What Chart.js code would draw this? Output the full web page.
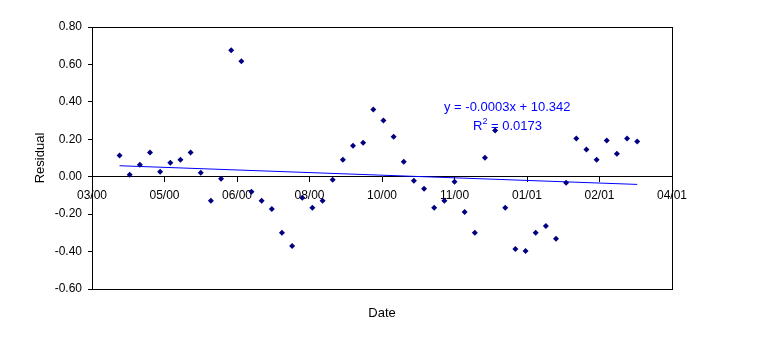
<!DOCTYPE html>
<html>
<head>
<meta charset="utf-8">
<script src="https://cdn.jsdelivr.net/npm/chart.js@4.4.0/dist/chart.umd.min.js"></script>
<style>
html, body { margin: 0; padding: 0; background: #fff; }
#wrap { width: 771px; height: 349px; }
</style>
</head>
<body>
<div id="wrap"><canvas id="residualChart" width="771" height="349"></canvas></div>
<script>
// weekly observation dates
const weekDates = [
    '2000-04-03', '2000-04-10', '2000-04-17', '2000-04-24',
    '2000-05-01', '2000-05-08', '2000-05-15', '2000-05-22', '2000-05-29',
    '2000-06-05', '2000-06-12', '2000-06-19', '2000-06-26',
    '2000-07-03', '2000-07-10', '2000-07-17', '2000-07-24', '2000-07-31',
    '2000-08-07', '2000-08-14', '2000-08-21', '2000-08-28',
    '2000-09-04', '2000-09-11', '2000-09-18', '2000-09-25',
    '2000-10-02', '2000-10-09', '2000-10-16', '2000-10-23', '2000-10-30',
    '2000-11-06', '2000-11-13', '2000-11-20', '2000-11-27',
    '2000-12-04', '2000-12-11', '2000-12-18', '2000-12-25',
    '2001-01-01', '2001-01-08', '2001-01-15', '2001-01-22', '2001-01-29',
    '2001-02-05', '2001-02-12', '2001-02-19', '2001-02-26',
    '2001-03-05', '2001-03-12', '2001-03-19', '2001-03-26'
];

const residuals = [
    0.113, 0.011, 0.064, 0.129, 0.027, 0.075, 0.091, 0.129, 0.021, -0.129, -0.011,
    0.676, 0.617, -0.080, -0.129, -0.172, -0.300, -0.370, -0.113, -0.166, -0.129,
    -0.016, 0.091, 0.166, 0.182, 0.359, 0.300, 0.214, 0.080, -0.021, -0.064, -0.166,
    -0.129, -0.027, -0.188, -0.300, 0.102, 0.247, -0.166, -0.386, -0.397, -0.300,
    -0.263, -0.332, -0.032, 0.204, 0.145, 0.091, 0.193, 0.123, 0.204, 0.188
];

// x ticks are Excel date serials (50 day steps)
const xTickSerials = [36600, 36650, 36700, 36750, 36800, 36850, 36900, 36950, 37000];
const yTickValues = [-0.6, -0.4, -0.2, 0, 0.2, 0.4, 0.6, 0.8];

const trendEquation = 'y = -0.0003x + 10.342';
const trendR2 = '0.0173';

const FONT = "'Liberation Sans', Arial, sans-serif";

function toSerial(iso) {
    const p = iso.split('-').map(Number);
    return Math.round((Date.UTC(p[0], p[1] - 1, p[2]) - Date.UTC(1899, 11, 30)) / 86400000);
}

function serialLabel(s) {
    const d = new Date(Date.UTC(1899, 11, 30) + s * 86400000);
    const mm = String(d.getUTCMonth() + 1).padStart(2, '0');
    const yy = String(d.getUTCFullYear() % 100).padStart(2, '0');
    return mm + '/' + yy;
}

const points = weekDates.map((d, i) => ({ x: toSerial(d), y: residuals[i] }));

// linear trendline (least squares) over the residual points
const n = points.length;
const mx = points.reduce((s, p) => s + p.x, 0) / n;
const my = points.reduce((s, p) => s + p.y, 0) / n;
let sxy = 0, sxx = 0;
points.forEach(p => { sxy += (p.x - mx) * (p.y - my); sxx += (p.x - mx) * (p.x - mx); });
const slope = sxy / sxx;
const intercept = my - slope * mx;
const trendPoints = [points[0].x, points[n - 1].x].map(x => ({ x: x, y: intercept + slope * x }));

const decorations = {
    id: 'decorations',
    beforeDraw(chart) {
        const ctx = chart.ctx;
        ctx.save();
        ctx.fillStyle = '#fff';
        ctx.fillRect(0, 0, chart.width, chart.height);
        ctx.restore();
    },
    afterDraw(chart) {
        const { ctx, chartArea: a } = chart;
        ctx.save();
        // plot frame
        ctx.strokeStyle = '#000';
        ctx.lineWidth = 1;
        ctx.strokeRect(Math.round(a.left) + 0.5, Math.round(a.top) + 0.5,
            Math.round(a.right - a.left), Math.round(a.bottom - a.top));

        // x axis title
        ctx.fillStyle = '#000';
        ctx.font = '13px ' + FONT;
        ctx.textAlign = 'center';
        ctx.textBaseline = 'alphabetic';
        ctx.fillText('Date', (a.left + a.right) / 2, 317);

        // trendline label
        ctx.fillStyle = '#0000FF';
        ctx.textAlign = 'left';
        ctx.font = '13px ' + FONT;
        ctx.fillText(trendEquation, 444, 111);
        ctx.fillText('R', 473, 130);
        let x = 473 + ctx.measureText('R').width;
        ctx.font = '9px ' + FONT;
        ctx.fillText('2', x, 124);
        x += ctx.measureText('2').width;
        ctx.font = '13px ' + FONT;
        ctx.fillText(' = ' + trendR2, x, 130);
        ctx.restore();
    }
};

new Chart(document.getElementById('residualChart'), {
    type: 'scatter',
    data: {
        datasets: [
            {
                label: 'Residual',
                data: points,
                pointStyle: 'rectRot',
                pointRadius: 3,
                pointHoverRadius: 3,
                backgroundColor: '#000080',
                borderColor: '#000080',
                borderWidth: 0
            },
            {
                label: 'Trend',
                type: 'line',
                data: trendPoints,
                borderColor: '#0000FF',
                borderWidth: 1,
                pointRadius: 0,
                fill: false
            }
        ]
    },
    options: {
        responsive: false,
        animation: false,
        layout: { padding: { left: 0, top: 27, right: 99, bottom: 60 } },
        plugins: {
            legend: { display: false },
            tooltip: { enabled: false }
        },
        scales: {
            x: {
                type: 'linear',
                position: { y: 0 },
                min: 36600,
                max: 37000,
                afterBuildTicks: scale => { scale.ticks = xTickSerials.map(v => ({ value: v })); },
                grid: { drawOnChartArea: false, drawTicks: true, tickLength: 5, color: '#000' },
                border: { display: true, color: '#000', width: 1 },
                ticks: {
                    autoSkip: false,
                    maxRotation: 0,
                    padding: 7,
                    color: '#000',
                    font: { family: FONT, size: 12 },
                    callback: v => serialLabel(v)
                }
            },
            y: {
                min: -0.6,
                max: 0.8,
                afterBuildTicks: scale => { scale.ticks = yTickValues.map(v => ({ value: v })); },
                afterFit: scale => { scale.width = 92; },
                grid: { drawOnChartArea: false, drawTicks: true, tickLength: 4, color: '#000' },
                border: { display: true, color: '#000', width: 1 },
                title: {
                    display: true,
                    text: 'Residual',
                    color: '#000',
                    font: { family: FONT, size: 13 },
                    padding: { top: 33, bottom: 0 }
                },
                ticks: {
                    padding: 6,
                    color: '#000',
                    font: { family: FONT, size: 12 },
                    callback: v => (Math.abs(v) < 1e-9 ? 0 : v).toFixed(2)
                }
            }
        }
    },
    plugins: [decorations]
});
</script>
</body>
</html>
